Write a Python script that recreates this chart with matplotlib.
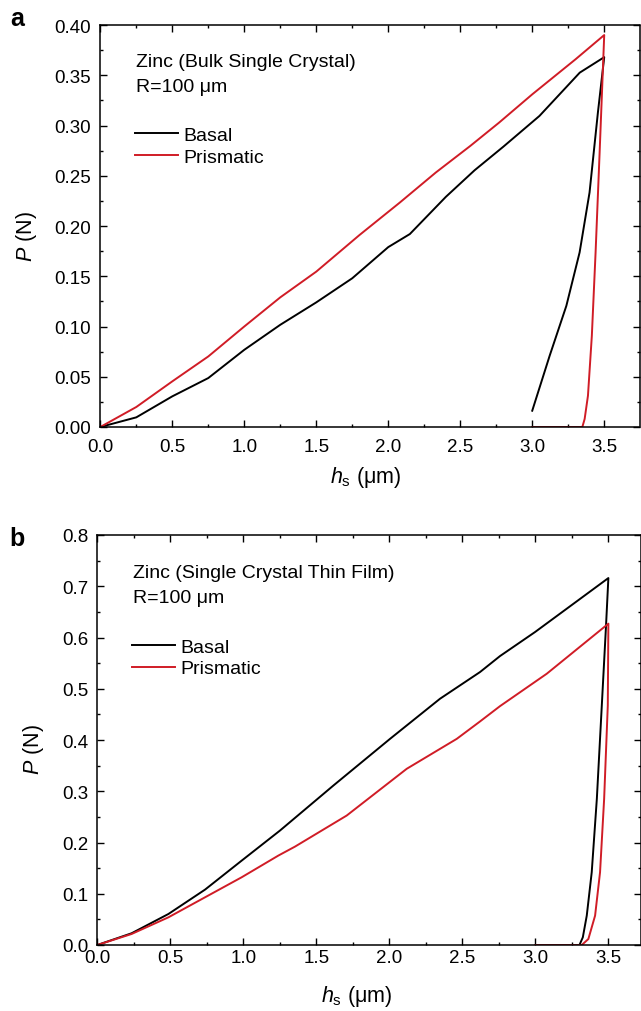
import numpy as np
import matplotlib
matplotlib.use("Agg")
import matplotlib.pyplot as plt
from matplotlib.ticker import MultipleLocator, FormatStrFormatter

plt.rcParams["font.family"] = ["Liberation Sans", "DejaVu Sans"]
plt.rcParams["mathtext.fontset"] = "custom"
plt.rcParams["mathtext.rm"] = "Liberation Sans"
plt.rcParams["mathtext.it"] = "Liberation Sans:italic"

RED = "#d01c26"

# ---------------- (a) bulk single crystal ----------------
a_basal_load_h = [0, 0.25, 0.5, 0.75, 1.0, 1.25, 1.5, 1.75, 2.0, 2.15, 2.4, 2.6, 2.8, 3.05, 3.33, 3.5]
a_basal_load_p = [0, 0.0096, 0.0305, 0.0487, 0.0768, 0.1017, 0.124, 0.148, 0.179, 0.192, 0.229, 0.2555,
                  0.279, 0.3095, 0.3526, 0.368]
a_basal_unload_h = [3.5, 3.456, 3.398, 3.329, 3.237, 3.121, 3.0]
a_basal_unload_p = [0.368, 0.3128, 0.2333, 0.1737, 0.1206, 0.0709, 0.0162]

a_prism_load_h = [0, 0.25, 0.5, 0.75, 1.0, 1.25, 1.5, 1.8, 2.08, 2.33, 2.57, 2.77, 3.0, 3.3, 3.5]
a_prism_load_p = [0, 0.0199, 0.0454, 0.0702, 0.1, 0.129, 0.1546, 0.191, 0.2233, 0.2532, 0.2797, 0.3029,
                  0.331, 0.3658, 0.39]
a_prism_unload_h = [3.5, 3.468, 3.44, 3.414, 3.387, 3.364, 3.348, 3.0]
a_prism_unload_p = [0.39, 0.273, 0.1737, 0.0908, 0.0311, 0.008, 0.0, 0.0]

# ---------------- (b) single crystal thin film ----------------
b_basal_load_h = [0, 0.235, 0.487, 0.738, 0.989, 1.251, 1.617, 2.005, 2.347, 2.621, 2.758, 2.998, 3.5]
b_basal_load_p = [0, 0.0229, 0.0605, 0.1081, 0.1647, 0.2233, 0.3112, 0.4023, 0.4805, 0.5326, 0.5638,
                  0.6107, 0.716]
b_basal_unload_h = [3.5, 3.484, 3.455, 3.421, 3.386, 3.352, 3.325, 3.302]
b_basal_unload_p = [0.716, 0.6237, 0.4674, 0.2852, 0.142, 0.0573, 0.015, 0.0]

b_prism_load_h = [0, 0.235, 0.487, 0.738, 0.989, 1.24, 1.354, 1.708, 2.119, 2.462, 2.621, 2.758, 3.078, 3.5]
b_prism_load_p = [0, 0.0215, 0.054, 0.0931, 0.1322, 0.1745, 0.192, 0.2526, 0.3438, 0.4023, 0.4362, 0.4661,
                  0.5293, 0.627]
b_prism_unload_h = [3.5, 3.496, 3.471, 3.443, 3.409, 3.363, 3.318, 3.0]
b_prism_unload_p = [0.627, 0.4674, 0.2852, 0.142, 0.0573, 0.0117, 0.0, 0.0]

W, H = 641, 1012
fig = plt.figure(figsize=(W / 100, H / 100), dpi=100)


def frame(left, top, right, bottom):
    return fig.add_axes([left / W, 1 - bottom / H, (right - left) / W, (bottom - top) / H])


def style(ax, ymajor, yminor, yfmt, xpad):
    ax.xaxis.set_major_locator(MultipleLocator(0.5))
    ax.xaxis.set_minor_locator(MultipleLocator(0.25))
    ax.yaxis.set_major_locator(MultipleLocator(ymajor))
    ax.yaxis.set_minor_locator(MultipleLocator(yminor))
    ax.xaxis.set_major_formatter(FormatStrFormatter("%.1f"))
    ax.yaxis.set_major_formatter(FormatStrFormatter(yfmt))
    ax.tick_params(which="both", direction="in", top=True, right=True, width=1.0, labelsize=13.5)
    ax.tick_params(which="major", length=5)
    ax.tick_params(which="minor", length=2.5)
    ax.tick_params(axis="x", which="major", pad=xpad)
    ax.tick_params(axis="y", which="major", pad=6.5)
    for s in ax.spines.values():
        s.set_linewidth(1.1)


def draw_panel(ax, curves, title, xlim, ylim):
    for h, p, c, lab in curves:
        ax.plot(h, p, color=c, lw=1.4, label=lab)
    ax.set_xlim(*xlim)
    ax.set_ylim(*ylim)
    ax.text(0.066, 0.908, title, transform=ax.transAxes, fontsize=14, va="center", ha="left")
    ax.text(0.066, 0.848, "R=100 μm", transform=ax.transAxes, fontsize=14, va="center", ha="left")
    ax.legend(loc="upper left", bbox_to_anchor=(0.05, 0.768), frameon=False, fontsize=14,
              handlelength=2.2, handletextpad=0.3, labelspacing=0.22, borderaxespad=0)
    ax.set_xlabel(r"$h_\mathrm{s}$ (μm)", fontsize=15.5)
    ax.set_ylabel(r"$P$ (N)", fontsize=15.5)
    ax.xaxis.label.set_va("center")
    ax.yaxis.label.set_va("center")


# panel a
ax1 = frame(100.3, 26, 639.5, 428)
draw_panel(ax1,
           [(a_basal_load_h + a_basal_unload_h[1:], a_basal_load_p + a_basal_unload_p[1:], "black", "Basal"),
            (a_prism_load_h + a_prism_unload_h[1:], a_prism_load_p + a_prism_unload_p[1:], RED, "Prismatic")],
           "Zinc (Bulk Single Crystal)", (0, 3.745), (0, 0.40))
style(ax1, 0.05, 0.025, "%.2f", 8)
ax1.xaxis.set_label_coords(0.493, -0.124)
ax1.yaxis.set_label_coords(-0.136, 0.476)

# panel b
ax2 = frame(97.3, 536, 640.5, 946)
draw_panel(ax2,
           [(b_basal_load_h + b_basal_unload_h[1:], b_basal_load_p + b_basal_unload_p[1:], "black", "Basal"),
            (b_prism_load_h + b_prism_unload_h[1:], b_prism_load_p + b_prism_unload_p[1:], RED, "Prismatic")],
           "Zinc (Single Crystal Thin Film)", (0, 3.72), (0, 0.8))
style(ax2, 0.1, 0.05, "%.1f", 3)
ax2.xaxis.set_label_coords(0.477, -0.124)
ax2.yaxis.set_label_coords(-0.118, 0.48)

fig.text(17 / W, 1 - 26 / H, "a", fontsize=18, fontweight="bold", ha="center", va="baseline")
fig.text(17 / W, 1 - 546 / H, "b", fontsize=18, fontweight="bold", ha="center", va="baseline")

fig.savefig("out.png", dpi=100)
